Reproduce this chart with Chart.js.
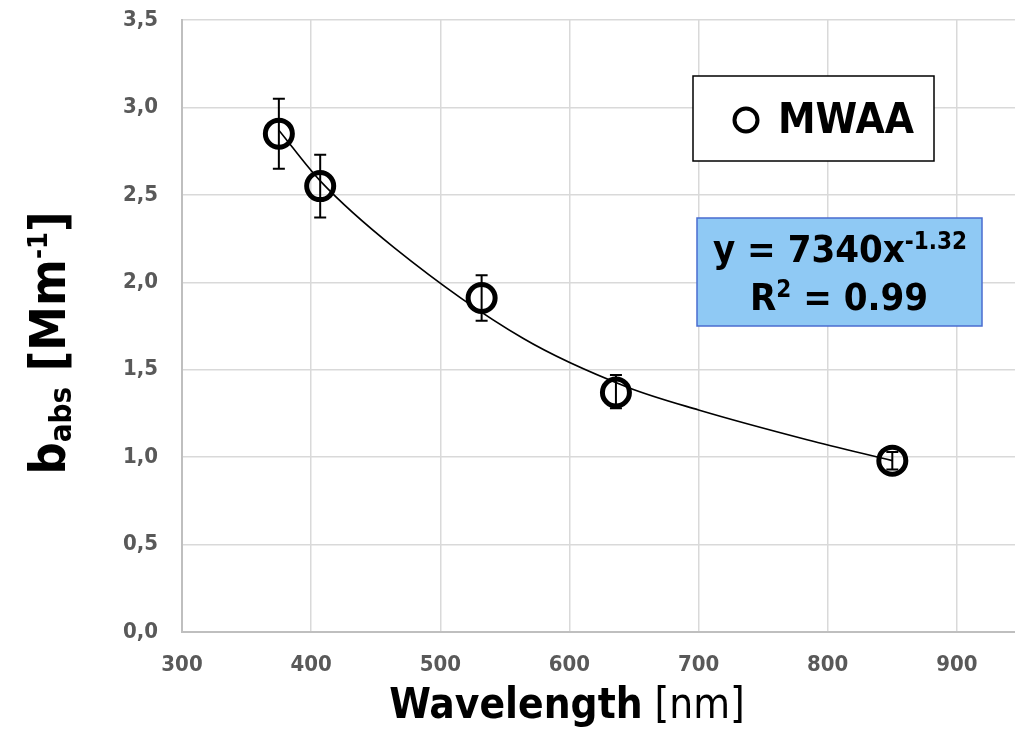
<!DOCTYPE html>
<html>
<head>
<meta charset="utf-8">
<script src="https://cdn.jsdelivr.net/npm/chart.js@4.4.1/dist/chart.umd.min.js"></script>
<style>
  html, body { margin: 0; padding: 0; background: #fff; overflow: hidden; }
  canvas { display: block; }
</style>
</head>
<body>
<canvas id="chart" width="1015" height="745"></canvas>
<script>
// measured points (MWAA)
const wavelengths = [375, 407, 532, 636, 850];
const babs = [2.85, 2.55, 1.91, 1.37, 0.98];
const errUp = [0.20, 0.18, 0.13, 0.10, 0.05];
const errDown = [0.20, 0.18, 0.13, 0.09, 0.05];

// power-law trend line
const fitX = [375, 407, 464, 564, 645, 700, 784, 850];
const fitY = [2.87, 2.58, 2.20, 1.68, 1.40, 1.27, 1.10, 0.98];

const xTicks = [300, 400, 500, 600, 700, 800, 900];
const yTicks = [0, 0.5, 1.0, 1.5, 2.0, 2.5, 3.0, 3.5];

const FONT = "'DejaVu Sans Condensed', 'DejaVu Sans', sans-serif";
const GRID = '#d9d9d9';

const errorBars = {
  id: 'errorBars',
  afterDatasetsDraw(chart) {
    const { ctx, scales: { x, y } } = chart;
    ctx.save();
    ctx.strokeStyle = '#000';
    ctx.lineWidth = 2;
    wavelengths.forEach((w, i) => {
      const px = x.getPixelForValue(w);
      const top = y.getPixelForValue(babs[i] + errUp[i]);
      const bot = y.getPixelForValue(babs[i] - errDown[i]);
      ctx.beginPath();
      ctx.moveTo(px, top); ctx.lineTo(px, bot);
      ctx.moveTo(px - 6, top); ctx.lineTo(px + 6, top);
      ctx.moveTo(px - 6, bot); ctx.lineTo(px + 6, bot);
      ctx.stroke();
    });
    ctx.restore();
  }
};

function drawParts(ctx, parts, x, y) {
  // parts: [text, font, dy]
  let cx = x;
  parts.forEach(p => {
    ctx.font = p[1];
    ctx.fillText(p[0], cx, y + p[2]);
    cx += ctx.measureText(p[0]).width;
  });
  return cx - x;
}
function partsWidth(ctx, parts) {
  let w = 0;
  parts.forEach(p => { ctx.font = p[1]; w += ctx.measureText(p[0]).width; });
  return w;
}

const annotations = {
  id: 'annotations',
  afterDraw(chart) {
    const ctx = chart.ctx;
    ctx.save();
    ctx.textBaseline = 'alphabetic';
    ctx.textAlign = 'left';

    // legend box
    ctx.fillStyle = '#fff';
    ctx.fillRect(693, 76, 241, 85);
    ctx.strokeStyle = '#000';
    ctx.lineWidth = 1.5;
    ctx.strokeRect(693, 76, 241, 85);
    ctx.beginPath();
    ctx.arc(746, 120, 11.5, 0, Math.PI * 2);
    ctx.lineWidth = 4;
    ctx.stroke();
    ctx.fillStyle = '#000';
    ctx.font = 'bold 42px ' + FONT;
    ctx.fillText('MWAA', 778, 133);

    // equation box
    ctx.fillStyle = '#8fc9f4';
    ctx.fillRect(697, 218, 285, 108);
    ctx.strokeStyle = '#4a6cd0';
    ctx.lineWidth = 1.5;
    ctx.strokeRect(697, 218, 285, 108);
    ctx.fillStyle = '#000';
    const big = 'bold 38px ' + FONT, sup = 'bold 24px ' + FONT;
    const l1 = [['y = 7340x', big, 0], ['-1.32', sup, -13]];
    drawParts(ctx, l1, 840 - partsWidth(ctx, l1) / 2, 262);
    const l2 = [['R', big, 0], ['2', sup, -13], [' = 0.99', big, 0]];
    drawParts(ctx, l2, 839 - partsWidth(ctx, l2) / 2, 310);

    // x title
    const xt = [['Wavelength', 'bold 42px ' + FONT, 0], [' [nm]', '42px ' + FONT, 0]];
    drawParts(ctx, xt, 567 - partsWidth(ctx, xt) / 2, 718);

    // y title
    ctx.translate(65, 343);
    ctx.rotate(-Math.PI / 2);
    const yt = [['b', 'bold 50px ' + FONT, 0], ['abs', 'bold 31px ' + FONT, 6],
                [' [Mm', 'bold 50px ' + FONT, 0], ['-1', 'bold 27px ' + FONT, -18],
                [']', 'bold 50px ' + FONT, 0]];
    drawParts(ctx, yt, -partsWidth(ctx, yt) / 2, 0);
    ctx.restore();
  }
};

const ctx = document.getElementById('chart').getContext('2d');
new Chart(ctx, {
  type: 'scatter',
  data: {
    datasets: [
      {
        label: 'MWAA',
        data: wavelengths.map((w, i) => ({ x: w, y: babs[i] })),
        pointStyle: 'circle',
        pointRadius: 13.5,
        pointBorderWidth: 5,
        pointBorderColor: '#000',
        pointBackgroundColor: 'rgba(0,0,0,0)',
        showLine: false,
        order: 0
      },
      {
        label: 'fit',
        data: fitX.map((w, i) => ({ x: w, y: fitY[i] })),
        showLine: true,
        borderColor: '#000',
        borderWidth: 1.6,
        pointRadius: 0,
        cubicInterpolationMode: 'monotone',
        order: 1
      }
    ]
  },
  options: {
    responsive: false,
    animation: false,
    layout: { autoPadding: false, padding: { top: 20, right: 0, left: 0, bottom: 0 } },
    plugins: { legend: { display: false }, tooltip: { enabled: false } },
    scales: {
      x: {
        type: 'linear',
        min: 300,
        max: 945,
        afterBuildTicks: s => { s.ticks = xTicks.map(v => ({ value: v })); },
        afterFit: s => { s.height = 113; s.paddingLeft = 0; s.paddingRight = 0; },
        grid: { color: GRID, lineWidth: 1.5, drawTicks: false },
        border: { color: '#bfbfbf', width: 2 },
        ticks: {
          padding: 20,
          color: '#595959',
          font: { family: FONT, size: 22, weight: 'bold' }
        }
      },
      y: {
        min: 0,
        max: 3.5,
        afterBuildTicks: s => { s.ticks = yTicks.map(v => ({ value: v })); },
        afterFit: s => { s.width = 182; s.paddingTop = 0; s.paddingBottom = 0; },
        grid: { color: GRID, lineWidth: 1.5, drawTicks: false },
        border: { color: '#bfbfbf', width: 2 },
        ticks: {
          padding: 24,
          color: '#595959',
          font: { family: FONT, size: 22, weight: 'bold' },
          callback: v => v.toFixed(1).replace('.', ',')
        }
      }
    }
  },
  plugins: [errorBars, annotations]
});
</script>
</body>
</html>
